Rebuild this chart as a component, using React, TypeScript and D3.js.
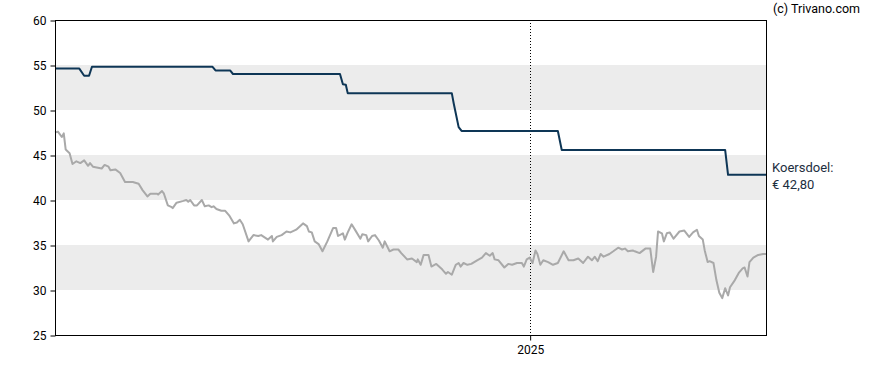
import React, { useEffect, useRef } from "react";
import * as d3 from "d3";

// share price (grey line)
const priceDates = [
  "2023-09-01", "2023-09-04", "2023-09-08", "2023-09-10", "2023-09-12", "2023-09-16", "2023-09-19", "2023-09-23",
  "2023-09-27", "2023-10-01", "2023-10-05", "2023-10-07", "2023-10-10", "2023-10-19", "2023-10-22", "2023-10-26",
  "2023-10-28", "2023-11-02", "2023-11-07", "2023-11-12", "2023-11-20", "2023-11-26", "2023-11-30", "2023-12-05",
  "2023-12-08", "2023-12-15", "2023-12-16", "2023-12-20", "2023-12-22", "2023-12-26", "2023-12-30", "2023-12-31",
  "2024-01-04", "2024-01-11", "2024-01-14", "2024-01-16", "2024-01-18", "2024-01-22", "2024-01-25", "2024-01-30",
  "2024-02-02", "2024-02-06", "2024-02-09", "2024-02-11", "2024-02-14", "2024-02-19", "2024-02-23", "2024-02-27",
  "2024-03-03", "2024-03-06", "2024-03-09", "2024-03-12", "2024-03-18", "2024-03-23", "2024-03-28", "2024-03-31",
  "2024-04-07", "2024-04-11", "2024-04-12", "2024-04-16", "2024-04-21", "2024-04-26", "2024-04-30", "2024-05-06",
  "2024-05-13", "2024-05-17", "2024-05-19", "2024-05-22", "2024-05-25", "2024-05-29", "2024-06-02", "2024-06-07",
  "2024-06-13", "2024-06-16", "2024-06-18", "2024-06-23", "2024-06-25", "2024-06-28", "2024-07-02", "2024-07-06",
  "2024-07-11", "2024-07-13", "2024-07-17", "2024-07-19", "2024-07-23", "2024-07-26", "2024-07-30", "2024-08-03",
  "2024-08-05", "2024-08-10", "2024-08-14", "2024-08-19", "2024-08-22", "2024-08-28", "2024-09-02", "2024-09-07",
  "2024-09-08", "2024-09-11", "2024-09-14", "2024-09-19", "2024-09-22", "2024-09-27", "2024-10-03", "2024-10-07",
  "2024-10-09", "2024-10-13", "2024-10-17", "2024-10-20", "2024-10-22", "2024-10-25", "2024-10-29", "2024-11-02",
  "2024-11-08", "2024-11-13", "2024-11-17", "2024-11-21", "2024-11-24", "2024-11-26", "2024-11-30", "2024-12-06",
  "2024-12-10", "2024-12-14", "2024-12-19", "2024-12-24", "2024-12-26", "2024-12-29", "2025-01-01", "2025-01-04",
  "2025-01-07", "2025-01-09", "2025-01-12", "2025-01-15", "2025-01-20", "2025-01-25", "2025-01-30", "2025-02-05",
  "2025-02-10", "2025-02-15", "2025-02-20", "2025-02-25", "2025-03-02", "2025-03-06", "2025-03-09", "2025-03-12",
  "2025-03-15", "2025-03-18", "2025-03-24", "2025-03-28", "2025-04-02", "2025-04-06", "2025-04-09", "2025-04-12",
  "2025-04-17", "2025-04-19", "2025-04-24", "2025-04-30", "2025-05-05", "2025-05-08", "2025-05-11", "2025-05-13",
  "2025-05-17", "2025-05-19", "2025-05-22", "2025-05-25", "2025-05-29", "2025-06-04", "2025-06-09", "2025-06-14",
  "2025-06-18", "2025-06-22", "2025-06-24", "2025-06-28", "2025-06-30", "2025-07-03", "2025-07-05", "2025-07-09",
  "2025-07-12", "2025-07-15", "2025-07-18", "2025-07-21", "2025-07-24", "2025-07-26", "2025-07-31", "2025-08-04",
  "2025-08-08", "2025-08-10", "2025-08-13", "2025-08-15", "2025-08-19", "2025-08-24", "2025-08-29", "2025-09-01",
];
const priceValues = [
  47.5, 47.6, 47.0, 47.4, 45.6, 45.2, 44.0, 44.3,
  44.1, 44.4, 43.8, 44.1, 43.7, 43.5, 43.9, 43.7,
  43.3, 43.4, 43.0, 42.0, 42.0, 41.8, 41.1, 40.4,
  40.7, 40.7, 40.6, 41.0, 40.7, 39.4, 39.2, 39.1,
  39.7, 39.9, 40.0, 39.8, 40.0, 39.4, 39.4, 40.0,
  39.3, 39.4, 39.2, 39.3, 39.0, 38.8, 38.8, 38.3,
  37.4, 37.5, 37.8, 37.3, 35.4, 36.1, 36.0, 36.1,
  35.6, 36.0, 35.4, 35.9, 36.1, 36.5, 36.4, 36.7,
  37.4, 37.1, 36.5, 36.4, 35.4, 35.1, 34.3, 35.4,
  36.9, 36.9, 36.0, 36.3, 35.6, 36.4, 37.3, 36.6,
  35.7, 36.2, 36.1, 35.4, 36.0, 36.1, 35.5, 34.7,
  35.4, 34.3, 34.5, 34.5, 34.1, 33.4, 33.5, 33.1,
  33.4, 32.8, 33.9, 33.9, 32.6, 32.9, 32.3, 31.8,
  32.0, 31.7, 32.8, 33.0, 32.6, 33.0, 32.8, 32.9,
  33.3, 33.6, 34.1, 33.8, 34.1, 33.4, 33.3, 32.5,
  32.9, 32.8, 33.0, 33.0, 32.6, 33.4, 33.6, 33.0,
  34.4, 34.0, 32.8, 33.3, 33.1, 32.8, 33.0, 34.3,
  33.3, 33.3, 33.5, 33.0, 33.7, 33.3, 33.7, 33.2,
  34.0, 33.7, 34.0, 34.3, 34.7, 34.5, 34.6, 34.3,
  34.4, 34.3, 34.1, 34.6, 34.6, 32.0, 33.7, 36.5,
  36.3, 35.4, 36.3, 36.4, 35.7, 36.5, 36.6, 35.9,
  36.4, 36.7, 36.0, 35.6, 34.4, 33.1, 33.2, 33.0,
  31.1, 29.7, 29.1, 30.2, 29.4, 30.3, 31.1, 31.9,
  32.4, 32.5, 31.5, 33.1, 33.6, 33.9, 34.0, 34.0,
];

// analyst price target (navy line)
const targetDates = [
  "2023-09-01", "2023-09-26", "2023-10-01", "2023-10-06", "2023-10-09", "2024-02-10", "2024-02-13", "2024-02-28",
  "2024-03-02", "2024-06-20", "2024-06-23", "2024-06-26", "2024-06-28", "2024-10-13", "2024-10-15", "2024-10-20",
  "2024-10-23", "2025-01-30", "2025-02-03", "2025-07-21", "2025-07-24", "2025-09-01",
];
const targetValues = [
  54.6, 54.6, 53.8, 53.8, 54.8, 54.8, 54.4, 54.4,
  54.0, 54.0, 52.85, 52.8, 51.85, 51.85, 50.7, 48.1,
  47.67, 47.67, 45.56, 45.56, 42.8, 42.8,
];

const yTicks = [25, 30, 35, 40, 45, 50, 55, 60];
const bands = [[30, 35], [40, 45], [50, 55]];
const yearMarker = "2025-01-01";
const yearLabel = "2025";
const targetLabel = ["Koersdoel:", "€ 42,80"];
const credit = "(c) Trivano.com";

const parse = d3.timeParse("%Y-%m-%d");

const App = () => {
  const svgRef = useRef<SVGSVGElement>(null);

  useEffect(() => {
    const width = 888;
    const height = 370;
    const m = { left: 55, right: 122, top: 20, bottom: 35 };
    const font = "Roboto, Arial, sans-serif";

    const svg = d3.select(svgRef.current);
    svg.selectAll("*").remove();
    svg.attr("width", width).attr("height", height);

    const x = d3.scaleTime()
      .domain([parse("2023-09-01"), parse("2025-09-01")])
      .range([m.left, width - m.right]);
    const y = d3.scaleLinear()
      .domain([25, 60])
      .range([height - m.bottom, m.top]);

    // grey bands
    svg.append("g").selectAll("rect")
      .data(bands)
      .join("rect")
      .attr("x", m.left)
      .attr("width", width - m.right - m.left)
      .attr("y", d => y(d[1]))
      .attr("height", d => y(d[0]) - y(d[1]))
      .attr("fill", "#ececec");

    // year divider
    const xm = Math.round(x(parse(yearMarker))) + 0.5;
    svg.append("line")
      .attr("x1", xm).attr("x2", xm)
      .attr("y1", m.top).attr("y2", height - m.bottom)
      .attr("stroke", "#000")
      .attr("stroke-dasharray", "1,2");

    const priceData = priceDates.map((d, i) => ({ date: parse(d), value: priceValues[i] }));
    const targetData = targetDates.map((d, i) => ({ date: parse(d), value: targetValues[i] }));

    const line = d3.line<{ date: Date; value: number }>()
      .x(d => x(d.date))
      .y(d => y(d.value));

    svg.append("path")
      .datum(priceData)
      .attr("d", line)
      .attr("fill", "none")
      .attr("stroke", "#a9a9a9")
      .attr("stroke-width", 2)
      .attr("stroke-linejoin", "round");

    svg.append("path")
      .datum(targetData)
      .attr("d", line)
      .attr("fill", "none")
      .attr("stroke", "#0e3656")
      .attr("stroke-width", 2)
      .attr("stroke-linejoin", "round");

    // frame
    svg.append("rect")
      .attr("x", m.left + 0.5)
      .attr("y", m.top + 0.5)
      .attr("width", width - m.right - m.left)
      .attr("height", height - m.bottom - m.top)
      .attr("fill", "none")
      .attr("stroke", "#000");

    // y axis
    const yAxis = d3.axisLeft(y).tickValues(yTicks).tickSize(5).tickFormat(d3.format("d"));
    const gy = svg.append("g")
      .attr("transform", `translate(${m.left + 0.5},0.5)`)
      .call(yAxis);
    gy.select(".domain").remove();
    gy.selectAll("text").attr("font-family", font).attr("font-size", 12).attr("fill", "#000").attr("dx", "-1");

    // x axis: only the year tick
    const xAxis = d3.axisBottom(x).tickValues([parse(yearMarker)]).tickSize(5).tickFormat(() => yearLabel);
    const gx = svg.append("g")
      .attr("transform", `translate(0.5,${height - m.bottom + 0.5})`)
      .call(xAxis);
    gx.select(".domain").remove();
    gx.selectAll("text").attr("font-family", font).attr("font-size", 12).attr("fill", "#000").attr("dy", "0.9em");

    // target label
    const last = targetData[targetData.length - 1];
    svg.append("text")
      .attr("y", y(last.value) - 3)
      .attr("font-family", font)
      .attr("font-size", 13)
      .attr("fill", "#1d2e40")
      .selectAll("tspan")
      .data(targetLabel)
      .join("tspan")
      .attr("x", width - m.right + 6)
      .attr("dy", (d, i) => (i === 0 ? 0 : 17))
      .text(d => d);

    svg.append("text")
      .attr("x", 773)
      .attr("y", 13)
      .attr("font-family", font)
      .attr("font-size", 12.5)
      .attr("fill", "#000")
      .text(credit);
  }, []);

  return <svg ref={svgRef} style={{ position: "absolute", left: 0, top: 0 }}></svg>;
};

export default App;
